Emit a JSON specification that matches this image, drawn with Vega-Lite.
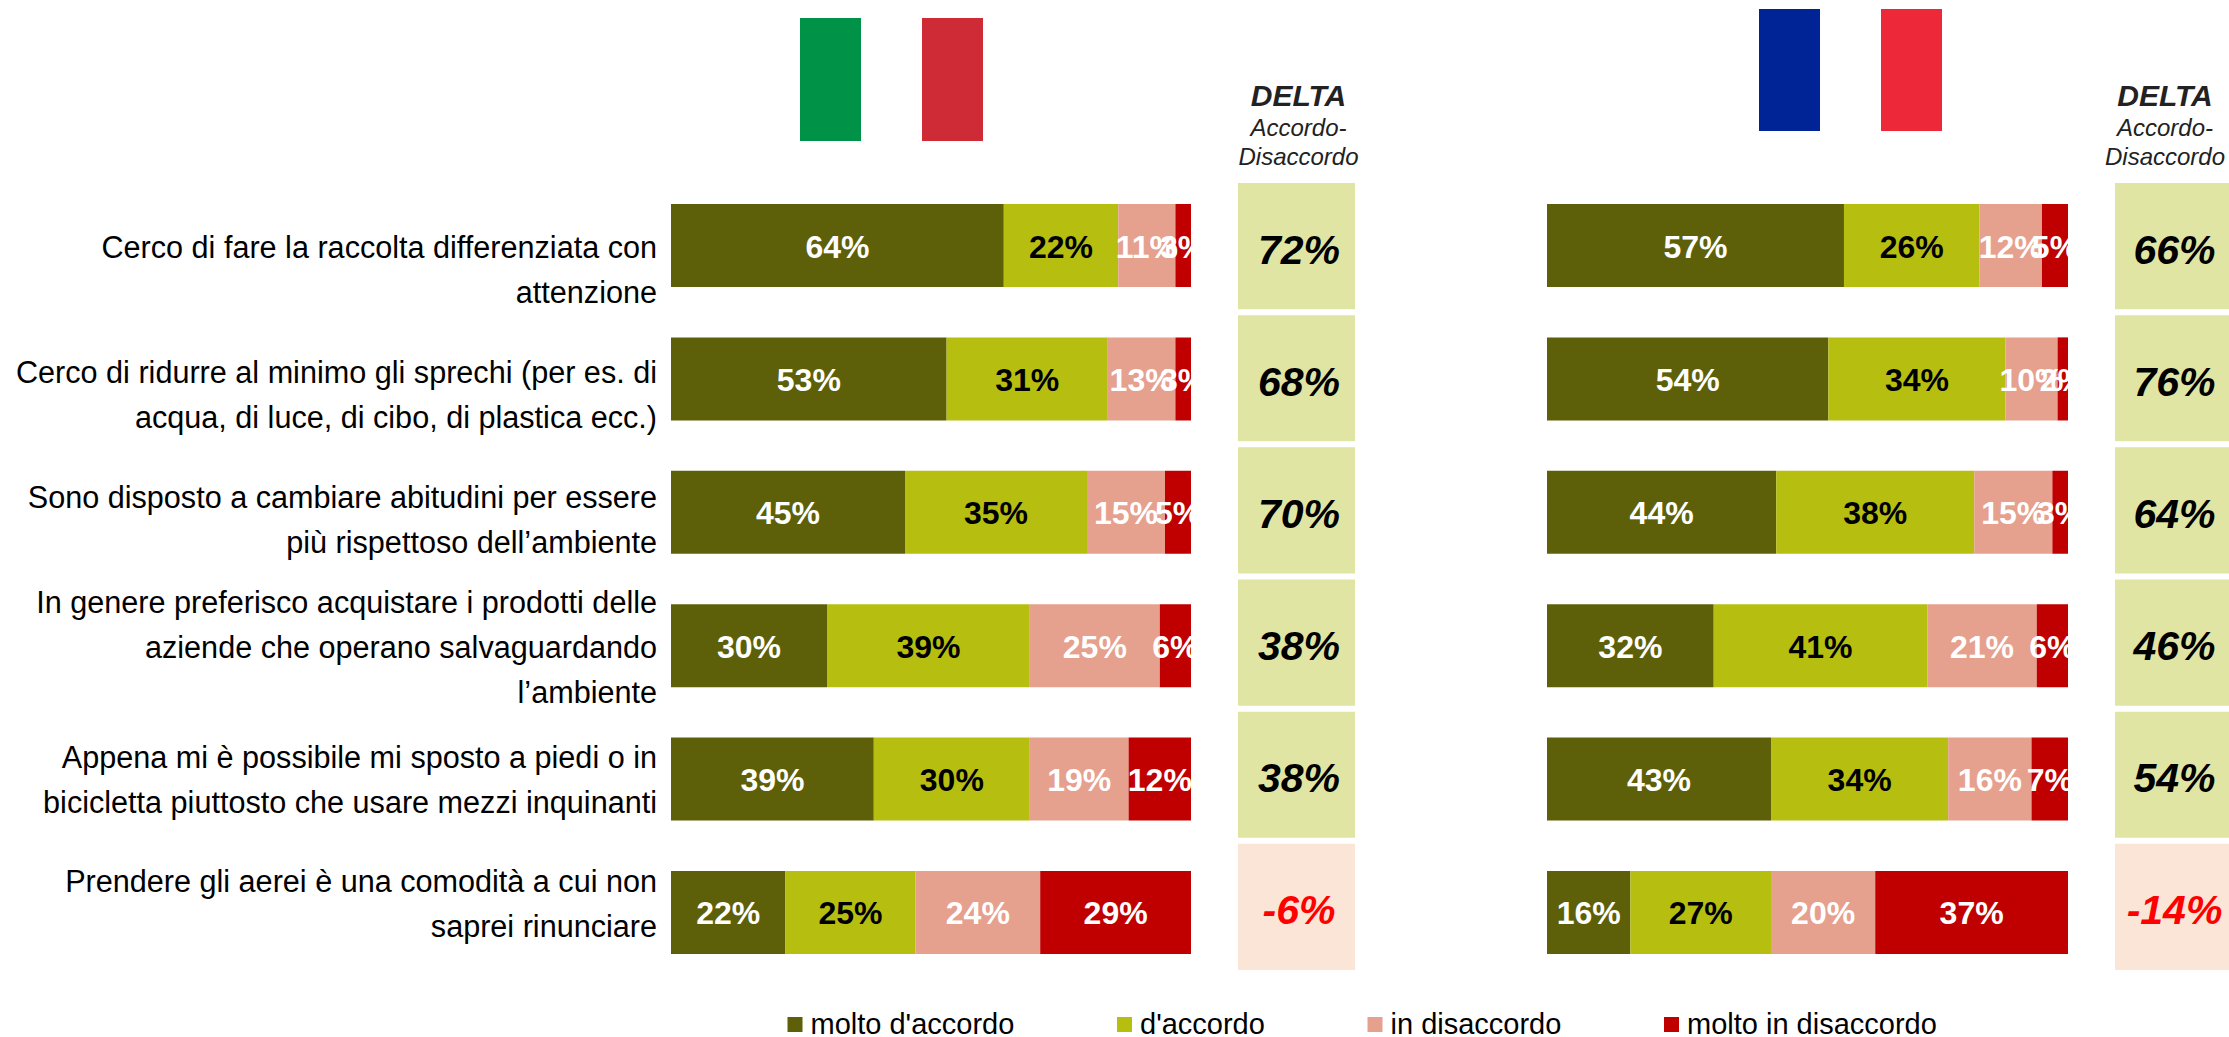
{
"$schema":"https://vega.github.io/schema/vega-lite/v6.json",
"background":"white",
"padding":{"left":16,"top":0,"right":0,"bottom":0},
"config":{"view":{"stroke":null},"locale":{"number":{"decimal":".","thousands":",","grouping":[3],"currency":["","€"],"minus":"-"}}},
"datasets":{
"voci":[
{"riga":1,"voce":"Cerco di fare la raccolta differenziata con\nattenzione"},
{"riga":2,"voce":"Cerco di ridurre al minimo gli sprechi (per es. di\nacqua, di luce, di cibo, di plastica ecc.)"},
{"riga":3,"voce":"Sono disposto a cambiare abitudini per essere\npiù rispettoso dell’ambiente"},
{"riga":4,"voce":"In genere preferisco acquistare i prodotti delle\naziende che operano salvaguardando\nl’ambiente"},
{"riga":5,"voce":"Appena mi è possibile mi sposto a piedi o in\nbicicletta piuttosto che usare mezzi inquinanti"},
{"riga":6,"voce":"Prendere gli aerei è una comodità a cui non\nsaprei rinunciare"}],
"it":[
{"riga":1,"ord":1,"giudizio":"molto d'accordo","valore":0.64},{"riga":1,"ord":2,"giudizio":"d'accordo","valore":0.22},{"riga":1,"ord":3,"giudizio":"in disaccordo","valore":0.11},{"riga":1,"ord":4,"giudizio":"molto in disaccordo","valore":0.03},
{"riga":2,"ord":1,"giudizio":"molto d'accordo","valore":0.53},{"riga":2,"ord":2,"giudizio":"d'accordo","valore":0.31},{"riga":2,"ord":3,"giudizio":"in disaccordo","valore":0.13},{"riga":2,"ord":4,"giudizio":"molto in disaccordo","valore":0.03},
{"riga":3,"ord":1,"giudizio":"molto d'accordo","valore":0.45},{"riga":3,"ord":2,"giudizio":"d'accordo","valore":0.35},{"riga":3,"ord":3,"giudizio":"in disaccordo","valore":0.15},{"riga":3,"ord":4,"giudizio":"molto in disaccordo","valore":0.05},
{"riga":4,"ord":1,"giudizio":"molto d'accordo","valore":0.30},{"riga":4,"ord":2,"giudizio":"d'accordo","valore":0.39},{"riga":4,"ord":3,"giudizio":"in disaccordo","valore":0.25},{"riga":4,"ord":4,"giudizio":"molto in disaccordo","valore":0.06},
{"riga":5,"ord":1,"giudizio":"molto d'accordo","valore":0.39},{"riga":5,"ord":2,"giudizio":"d'accordo","valore":0.30},{"riga":5,"ord":3,"giudizio":"in disaccordo","valore":0.19},{"riga":5,"ord":4,"giudizio":"molto in disaccordo","valore":0.12},
{"riga":6,"ord":1,"giudizio":"molto d'accordo","valore":0.22},{"riga":6,"ord":2,"giudizio":"d'accordo","valore":0.25},{"riga":6,"ord":3,"giudizio":"in disaccordo","valore":0.24},{"riga":6,"ord":4,"giudizio":"molto in disaccordo","valore":0.29}],
"fr":[
{"riga":1,"ord":1,"giudizio":"molto d'accordo","valore":0.57},{"riga":1,"ord":2,"giudizio":"d'accordo","valore":0.26},{"riga":1,"ord":3,"giudizio":"in disaccordo","valore":0.12},{"riga":1,"ord":4,"giudizio":"molto in disaccordo","valore":0.05},
{"riga":2,"ord":1,"giudizio":"molto d'accordo","valore":0.54},{"riga":2,"ord":2,"giudizio":"d'accordo","valore":0.34},{"riga":2,"ord":3,"giudizio":"in disaccordo","valore":0.10},{"riga":2,"ord":4,"giudizio":"molto in disaccordo","valore":0.02},
{"riga":3,"ord":1,"giudizio":"molto d'accordo","valore":0.44},{"riga":3,"ord":2,"giudizio":"d'accordo","valore":0.38},{"riga":3,"ord":3,"giudizio":"in disaccordo","valore":0.15},{"riga":3,"ord":4,"giudizio":"molto in disaccordo","valore":0.03},
{"riga":4,"ord":1,"giudizio":"molto d'accordo","valore":0.32},{"riga":4,"ord":2,"giudizio":"d'accordo","valore":0.41},{"riga":4,"ord":3,"giudizio":"in disaccordo","valore":0.21},{"riga":4,"ord":4,"giudizio":"molto in disaccordo","valore":0.06},
{"riga":5,"ord":1,"giudizio":"molto d'accordo","valore":0.43},{"riga":5,"ord":2,"giudizio":"d'accordo","valore":0.34},{"riga":5,"ord":3,"giudizio":"in disaccordo","valore":0.16},{"riga":5,"ord":4,"giudizio":"molto in disaccordo","valore":0.07},
{"riga":6,"ord":1,"giudizio":"molto d'accordo","valore":0.16},{"riga":6,"ord":2,"giudizio":"d'accordo","valore":0.27},{"riga":6,"ord":3,"giudizio":"in disaccordo","valore":0.20},{"riga":6,"ord":4,"giudizio":"molto in disaccordo","valore":0.37}],
"delta_it":[{"riga":1,"delta":0.72},{"riga":2,"delta":0.68},{"riga":3,"delta":0.70},{"riga":4,"delta":0.38},{"riga":5,"delta":0.38},{"riga":6,"delta":-0.06}],
"delta_fr":[{"riga":1,"delta":0.66},{"riga":2,"delta":0.76},{"riga":3,"delta":0.64},{"riga":4,"delta":0.46},{"riga":5,"delta":0.54},{"riga":6,"delta":-0.14}]
},
"bounds":"flush",
"spacing":47,
"hconcat":[
 {"width":520,"height":1037,
  "resolve":{"scale":{"x":"independent","y":"independent","color":"independent"}},
  "layer":[
  {"data":{"values":[{"paese":"Italia","striscia":"verde"},{"paese":"Italia","striscia":"bianco"},{"paese":"Italia","striscia":"rosso"}]},
   "mark":{"type":"rect"},
   "encoding":{
    "x":{"field":"striscia","type":"nominal","axis":null,"scale":{"type":"band","domain":["verde","bianco","rosso"],"range":[129,312],"padding":0}},
    "y":{"field":"paese","type":"nominal","axis":null,"scale":{"type":"band","range":[18,141],"padding":0}},
    "color":{"field":"striscia","type":"nominal","legend":null,"scale":{"domain":["verde","bianco","rosso"],"range":["#009246","#FFFFFF","#CE2B37"]}}}},
  {"data":{"name":"voci"},
   "mark":{"type":"text","align":"right","baseline":"middle","dx":-14,"font":"Liberation Sans","fontSize":30.6,"lineBreak":"\n","lineHeight":45,"color":"black"},
   "encoding":{
    "x":{"datum":0,"type":"quantitative","axis":null,"scale":{"domain":[0,1],"nice":false}},
    "y":{"field":"riga","type":"quantitative","axis":null,"scale":{"domain":[1,2,3,4,5,6],"range":[249,374,499,604,759,883],"nice":false,"zero":false}},
    "text":{"field":"voce","type":"nominal"}}},
  {"data":{"name":"it"},
   "layer":[
    {"mark":{"type":"bar"},
     "encoding":{
      "x":{"field":"valore","type":"quantitative","stack":"zero","axis":null,"scale":{"domain":[0,1],"nice":false}},
      "order":{"field":"ord","type":"quantitative"},
      "y":{"field":"riga","type":"ordinal","axis":null,"scale":{"type":"band","range":[204,954],"paddingInner":0.377,"paddingOuter":0}},
      "color":{"field":"giudizio","type":"nominal","scale":{"domain":["molto d'accordo","d'accordo","in disaccordo","molto in disaccordo"],"range":["#5D6009","#B6BF10","#E6A08E","#C00000"]},
       "legend":{"orient":"none","legendX":109.5,"legendY":1010,"direction":"horizontal","columns":4,"title":null,"symbolType":"square","symbolSize":225,"symbolStrokeWidth":0,"labelFont":"Liberation Sans","labelFontSize":29,"labelColor":"black","labelOffset":1,"labelLimit":400,"columnPadding":95.5,"gridAlign":"none"}}}},
    {"mark":{"type":"text","clip":true,"baseline":"middle","dy":2,"font":"Liberation Sans","fontWeight":"bold","fontSize":32},
     "encoding":{
      "x":{"field":"valore","type":"quantitative","stack":"zero","bandPosition":0.5,"axis":null},
      "order":{"field":"ord","type":"quantitative"},
      "detail":{"field":"giudizio"},
      "y":{"field":"riga","type":"ordinal","axis":null},
      "text":{"field":"valore","type":"quantitative","format":".0%"},
      "color":{"condition":{"test":"datum.ord==2","value":"black"},"value":"white"}}}
   ]}
 ]},
 {"width":117,"height":1037,
  "title":{"text":"DELTA","subtitle":["Accordo-","Disaccordo"],"orient":"top","anchor":"middle","frame":"group","offset":-170,"dx":2,"font":"Liberation Sans","fontSize":30,"fontWeight":"bold","fontStyle":"italic","color":"#222222","subtitleFont":"Liberation Sans","subtitleFontSize":24,"subtitleFontStyle":"italic","subtitleColor":"#222222","subtitleLineHeight":29,"subtitlePadding":5},
  "data":{"name":"delta_it"},
  "encoding":{"y":{"field":"riga","type":"ordinal","axis":null,"scale":{"type":"band","range":[183,970],"paddingInner":0.0455,"paddingOuter":0}}},
  "layer":[
   {"mark":{"type":"rect"},"encoding":{"color":{"condition":{"test":"datum.delta<0","value":"#FAE5D6"},"value":"#E1E5A3"}}},
   {"mark":{"type":"text","baseline":"middle","dy":5.5,"dx":2.5,"font":"Liberation Sans","fontWeight":"bold","fontStyle":"italic","fontSize":41},
    "encoding":{"text":{"field":"delta","type":"quantitative","format":".0%"},"color":{"condition":{"test":"datum.delta<0","value":"#FF0000"},"value":"black"}}}
  ]},
 {"width":666,"height":1037,
  "resolve":{"scale":{"x":"independent","y":"independent","color":"independent"}},
  "layer":[
  {"data":{"values":[{"paese":"Francia","striscia":"blu"},{"paese":"Francia","striscia":"bianco"},{"paese":"Francia","striscia":"rosso"}]},
   "mark":{"type":"rect"},
   "encoding":{
    "x":{"field":"striscia","type":"nominal","axis":null,"scale":{"type":"band","domain":["blu","bianco","rosso"],"range":[357,540],"padding":0}},
    "y":{"field":"paese","type":"nominal","axis":null,"scale":{"type":"band","range":[9,131],"padding":0}},
    "color":{"field":"striscia","type":"nominal","legend":null,"scale":{"domain":["blu","bianco","rosso"],"range":["#002395","#FFFFFF","#ED2939"]}}}},
  {"data":{"name":"fr"},
   "layer":[
    {"mark":{"type":"bar"},
     "encoding":{
      "x":{"field":"valore","type":"quantitative","stack":"zero","axis":null,"scale":{"domain":[0,1],"nice":false,"range":[145,666]}},
      "order":{"field":"ord","type":"quantitative"},
      "y":{"field":"riga","type":"ordinal","axis":null,"scale":{"type":"band","range":[204,954],"paddingInner":0.377,"paddingOuter":0}},
      "color":{"field":"giudizio","type":"nominal","legend":null,"scale":{"domain":["molto d'accordo","d'accordo","in disaccordo","molto in disaccordo"],"range":["#5D6009","#B6BF10","#E6A08E","#C00000"]}}}},
    {"mark":{"type":"text","clip":true,"baseline":"middle","dy":2,"font":"Liberation Sans","fontWeight":"bold","fontSize":32},
     "encoding":{
      "x":{"field":"valore","type":"quantitative","stack":"zero","bandPosition":0.5,"axis":null},
      "order":{"field":"ord","type":"quantitative"},
      "detail":{"field":"giudizio"},
      "y":{"field":"riga","type":"ordinal","axis":null},
      "text":{"field":"valore","type":"quantitative","format":".0%"},
      "color":{"condition":{"test":"datum.ord==2","value":"black"},"value":"white"}}}
   ]}
 ]},
 {"width":114,"height":1037,
  "title":{"text":"DELTA","subtitle":["Accordo-","Disaccordo"],"orient":"top","anchor":"middle","frame":"group","offset":-170,"dx":-7,"font":"Liberation Sans","fontSize":30,"fontWeight":"bold","fontStyle":"italic","color":"#222222","subtitleFont":"Liberation Sans","subtitleFontSize":24,"subtitleFontStyle":"italic","subtitleColor":"#222222","subtitleLineHeight":29,"subtitlePadding":5},
  "data":{"name":"delta_fr"},
  "encoding":{"y":{"field":"riga","type":"ordinal","axis":null,"scale":{"type":"band","range":[183,970],"paddingInner":0.0455,"paddingOuter":0}}},
  "layer":[
   {"mark":{"type":"rect"},"encoding":{"color":{"condition":{"test":"datum.delta<0","value":"#FAE5D6"},"value":"#E1E5A3"}}},
   {"mark":{"type":"text","baseline":"middle","dy":5.5,"dx":2.5,"font":"Liberation Sans","fontWeight":"bold","fontStyle":"italic","fontSize":41},
    "encoding":{"text":{"field":"delta","type":"quantitative","format":".0%"},"color":{"condition":{"test":"datum.delta<0","value":"#FF0000"},"value":"black"}}}
  ]}
]
}
